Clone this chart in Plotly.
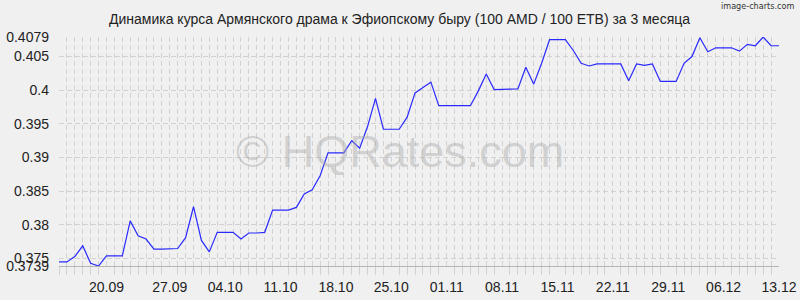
import plotly.graph_objects as go

# daily values 13.09 .. 13.12 (92 points)
values = [
    0.3745, 0.3745, 0.3753, 0.3769, 0.3743, 0.3739, 0.3754, 0.3754, 0.3754, 0.3806,
    0.3784, 0.3779, 0.3764, 0.3764, 0.3764, 0.3765, 0.3781, 0.3827, 0.3777, 0.3760,
    0.3789, 0.3789, 0.3789, 0.3779, 0.3788, 0.3788, 0.3789, 0.3822, 0.3822, 0.3822,
    0.3826, 0.3846, 0.3852, 0.3873, 0.3907, 0.3907, 0.3907, 0.3925, 0.3914, 0.3946,
    0.3988, 0.3942, 0.3942, 0.3942, 0.3960, 0.3996, 0.4004, 0.4012, 0.3977, 0.3977,
    0.3977, 0.3977, 0.3977, 0.3999, 0.4024, 0.4001, 0.4001, 0.4001, 0.4002, 0.4034,
    0.4009, 0.4040, 0.4075, 0.4075, 0.4075, 0.4059, 0.4040, 0.4036, 0.4039, 0.4039,
    0.4039, 0.4039, 0.4014, 0.4039, 0.4037, 0.4039, 0.4013, 0.4013, 0.4013, 0.4040,
    0.4050, 0.4078, 0.4057, 0.4063, 0.4063, 0.4063, 0.4058, 0.4068, 0.4066, 0.4079,
    0.4066, 0.4066,
]
days = list(range(len(values)))

x_tick_labels = ["20.09", "27.09", "04.10", "11.10", "18.10", "25.10", "01.11",
                 "08.11", "15.11", "22.11", "29.11", "06.12", "13.12"]
x_tick_pos = [6, 14, 21, 28, 35, 42, 49, 56, 63, 70, 77, 84, 91]

y_min, y_max = 0.3739, 0.4079
y_tick_vals = [0.3739, 0.375, 0.38, 0.385, 0.39, 0.395, 0.4, 0.405, 0.4079]
y_tick_text = ["0.3739", "0.375", "0.38", "0.385", "0.39", "0.395", "0.4", "0.405", "0.4079"]

title = "Динамика курса Армянского драма к Эфиопскому быру (100 AMD / 100 ETB) за 3 месяца"

BG = "#f0f0f0"
GRID = "#d2d2d2"
FONT = "Liberation Sans, Arial, sans-serif"

fig = go.Figure()
fig.add_trace(go.Scatter(
    x=days, y=values, mode="lines",
    line=dict(color="#2a2aff", width=1.2),
    hoverinfo="skip", showlegend=False,
))

fig.update_layout(
    width=800, height=300,
    margin=dict(l=59, r=21, t=37, b=34, autoexpand=False),
    paper_bgcolor=BG, plot_bgcolor=BG,
    font=dict(family=FONT, size=14, color="#222222"),
    showlegend=False,
    annotations=[
        dict(text=title, xref="paper", yref="paper", x=0.4736, y=1.0, yshift=18,
             xanchor="center", yanchor="middle", showarrow=False,
             font=dict(family=FONT, size=14, color="#222222")),
        dict(text="image-charts.com", xref="paper", yref="paper", x=1.0, xshift=17, y=1.0, yshift=31,
             xanchor="right", yanchor="middle", showarrow=False,
             font=dict(family="DejaVu Sans Condensed, Liberation Sans Narrow, sans-serif", size=9, color="#333333")),
        dict(text="© HQRates.com", xref="paper", yref="paper", x=0.474, y=0.5,
             xanchor="center", yanchor="middle", showarrow=False,
             font=dict(family=FONT, size=45, color="rgba(170,170,170,0.45)")),
    ],
)

fig.update_xaxes(
    range=[0, len(values) - 1], automargin=False,
    tickmode="array", tickvals=x_tick_pos, ticktext=x_tick_labels,
    showgrid=False, zeroline=False,
    ticks="outside", ticklen=8, tickcolor=BG,
    tickfont=dict(size=14, color="#222222"),
    showline=True, linecolor="#b4b4b4", linewidth=1,
    minor=dict(dtick=1, tick0=0, showgrid=True, gridcolor=GRID, griddash="5px,3px",
               gridwidth=1, ticks="outside", ticklen=8, tickcolor=GRID),
)
fig.update_yaxes(
    range=[y_min, y_max], automargin=False,
    tickmode="array", tickvals=y_tick_vals, ticktext=y_tick_text,
    showgrid=True, gridcolor=GRID, griddash="5px,3px", gridwidth=1,
    zeroline=False, ticks="", ticklabelstandoff=9,
    tickfont=dict(size=14, color="#222222"),
)

fig.write_html("out.html")
